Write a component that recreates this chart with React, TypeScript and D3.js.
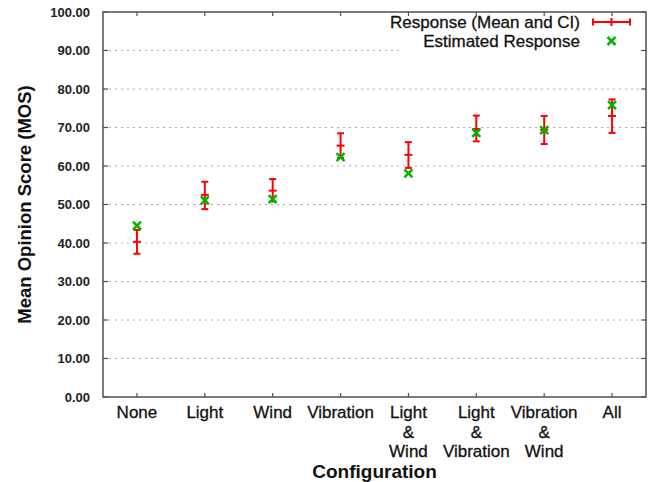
import React from "react";
import { scaleLinear, range } from "d3";

// categories (multi-line tick labels) and the values
const categories = [
  ["None"],
  ["Light"],
  ["Wind"],
  ["Vibration"],
  ["Light", "&", "Wind"],
  ["Light", "&", "Vibration"],
  ["Vibration", "&", "Wind"],
  ["All"]
];
const meanScore = [40.3, 52.5, 53.6, 65.3, 62.9, 69.6, 69.4, 73.0];
const ciLower = [37.2, 48.8, 50.8, 62.1, 59.5, 66.4, 65.7, 68.6];
const ciUpper = [43.4, 55.9, 56.6, 68.5, 66.2, 73.1, 73.0, 77.3];
const estimated = [44.5, 51.1, 51.4, 62.3, 58.1, 68.6, 69.3, 75.8];
const yTicks = range(0, 101, 10);

const W = 648;
const H = 482;
const margin = { top: 12, right: 2, bottom: 85, left: 103 };
const RED = "#ff0000";
const GREEN = "#00b400";
const AXIS = "#505050";

export default function App() {
  const innerW = W - margin.left - margin.right;
  const innerH = H - margin.top - margin.bottom;
  // gnuplot-style: categories at 1..8, x range 0.5..8.5
  const x = scaleLinear().domain([0.5, categories.length + 0.5]).range([0, innerW]);
  const y = scaleLinear().domain([0, 100]).range([innerH, 0]);
  const cap = 3.5;
  const mk = 4;

  return (
    <svg
      width={W}
      height={H}
      style={{ position: "absolute", left: 0, top: 0, background: "#fff" }}
      fontFamily="'Liberation Sans', Arial, sans-serif"
    >
      <g transform={`translate(${margin.left},${margin.top})`}>
        {/* dotted grid */}
        {yTicks
          .filter(t => t > 0 && t < 100)
          .map(t => (
            <line
              key={"g" + t}
              x1={0}
              x2={innerW}
              y1={y(t)}
              y2={y(t)}
              stroke="#aaaaaa"
              strokeWidth={1}
              strokeDasharray="2,4"
            />
          ))}

        {/* legend background hides grid behind it */}
        <rect x={299} y={1} width={innerW - 302} height={40} fill="#fff" />

        {/* y tick labels */}
        {yTicks.map(t => (
          <text
            key={"yl" + t}
            x={-13}
            y={y(t)}
            dy="0.35em"
            textAnchor="end"
            fontSize={13}
            fontWeight="bold"
            fill="#222"
          >
            {t.toFixed(2)}
          </text>
        ))}

        {/* right-side and left-side ticks */}
        {yTicks.map(t => (
          <g key={"yt" + t}>
            <line x1={innerW} x2={innerW - 5} y1={y(t)} y2={y(t)} stroke={AXIS} strokeWidth={1.2} />
            <line x1={0} x2={5} y1={y(t)} y2={y(t)} stroke={AXIS} strokeWidth={1.2} />
          </g>
        ))}

        {/* category ticks, bottom and top, plus labels */}
        {categories.map((lines, i) => {
          const cx = x(i + 1);
          return (
            <g key={"c" + i}>
              <line x1={cx} x2={cx} y1={innerH} y2={innerH - 4} stroke={AXIS} strokeWidth={1.2} />
              <line x1={cx} x2={cx} y1={0} y2={4} stroke={AXIS} strokeWidth={1.2} />
              {lines.map((s, j) => (
                <text
                  key={j}
                  x={cx}
                  y={innerH + 21 + j * 19.5}
                  textAnchor="middle"
                  fontSize={17}
                  fill="#111"
                  stroke="#111"
                  strokeWidth={0.3}
                >
                  {s}
                </text>
              ))}
            </g>
          );
        })}

        {/* border */}
        <rect x={0} y={0} width={innerW} height={innerH} fill="none" stroke={AXIS} strokeWidth={1.5} />

        {/* error bars: mean and CI */}
        {meanScore.map((m, i) => {
          const cx = x(i + 1);
          return (
            <g key={"e" + i} stroke={RED} strokeWidth={2}>
              <line x1={cx} x2={cx} y1={y(ciLower[i])} y2={y(ciUpper[i])} />
              <line x1={cx - cap} x2={cx + cap} y1={y(ciLower[i])} y2={y(ciLower[i])} />
              <line x1={cx - cap} x2={cx + cap} y1={y(ciUpper[i])} y2={y(ciUpper[i])} />
              <line x1={cx - mk} x2={cx + mk} y1={y(m)} y2={y(m)} />
            </g>
          );
        })}

        {/* estimated response markers */}
        {estimated.map((v, i) => {
          const cx = x(i + 1);
          const cy = y(v);
          return (
            <g key={"s" + i} stroke={GREEN} strokeWidth={2.5}>
              <line x1={cx - mk} x2={cx + mk} y1={cy - mk} y2={cy + mk} />
              <line x1={cx - mk} x2={cx + mk} y1={cy + mk} y2={cy - mk} />
            </g>
          );
        })}

        {/* legend */}
        <g>
          <text x={477} y={10} dy="0.35em" textAnchor="end" fontSize={17} fill="#111" stroke="#111" strokeWidth={0.3}>
            Response (Mean and CI)
          </text>
          <g stroke={RED} strokeWidth={2}>
            <line x1={490} x2={527} y1={10} y2={10} />
            <line x1={490} x2={490} y1={6.5} y2={13.5} />
            <line x1={527} x2={527} y1={6.5} y2={13.5} />
            <line x1={508.5} x2={508.5} y1={6} y2={14} />
          </g>
          <text x={477} y={29} dy="0.35em" textAnchor="end" fontSize={17} fill="#111" stroke="#111" strokeWidth={0.3}>
            Estimated Response
          </text>
          <g stroke={GREEN} strokeWidth={2.5}>
            <line x1={508.5 - mk} x2={508.5 + mk} y1={29 - mk} y2={29 + mk} />
            <line x1={508.5 - mk} x2={508.5 + mk} y1={29 + mk} y2={29 - mk} />
          </g>
        </g>

        {/* axis titles */}
        <text
          transform={`translate(${-78},${innerH / 2}) rotate(-90)`}
          textAnchor="middle"
          dy="0.35em"
          fontSize={18.5}
          fontWeight="bold"
          fill="#111"
        >
          Mean Opinion Score (MOS)
        </text>
        <text
          x={innerW / 2}
          y={innerH + 81}
          textAnchor="middle"
          fontSize={19}
          fontWeight="bold"
          fill="#111"
        >
          Configuration
        </text>
      </g>
    </svg>
  );
}
